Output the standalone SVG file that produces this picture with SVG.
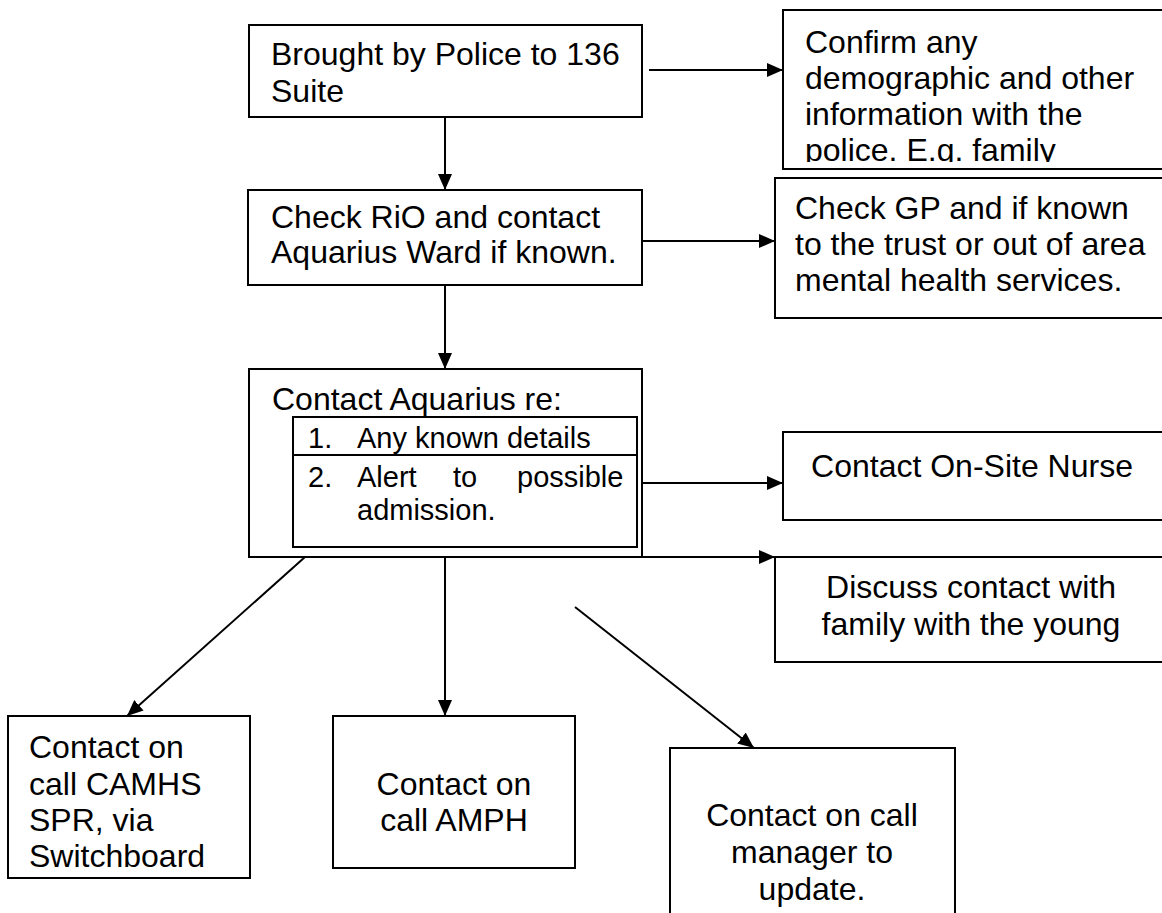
<svg xmlns="http://www.w3.org/2000/svg" width="1162" height="913" viewBox="0 0 1162 913">
<style>
.box{fill:#fff;stroke:#000;stroke-width:2}
.t{font-family:"Liberation Sans",Arial,sans-serif;font-size:32px;fill:#000}
.s{font-family:"Liberation Sans",Arial,sans-serif;font-size:29px;fill:#000}
.c{text-anchor:middle}
.ln{stroke:#000;stroke-width:2;fill:none}
</style>
<defs>
<marker id="ah" viewBox="0 0 16 14" refX="16" refY="7" markerWidth="16" markerHeight="14" orient="auto" markerUnits="userSpaceOnUse"><path d="M0,0 L16,7 L0,14 z" fill="#000"/></marker>
<clipPath id="clipConfirm"><rect x="783" y="10" width="400" height="152"/></clipPath>
</defs>
<rect width="1162" height="913" fill="#fff"/>
<g id="n1">
<rect class="box" x="249" y="25" width="393" height="92"/>
<text class="t" x="271" y="65">Brought by Police to 136</text>
<text class="t" x="271" y="102">Suite</text>
</g>
<g id="n2">
<rect class="box" x="783" y="10" width="400" height="159"/>
<g clip-path="url(#clipConfirm)">
<text class="t" x="805" y="53">Confirm any</text>
<text class="t" x="805" y="89">demographic and other</text>
<text class="t" x="805" y="125">information with the</text>
<text class="t" x="805" y="161">police. E.g. family</text>
</g>
</g>
<g id="n3">
<rect class="box" x="248" y="190" width="394" height="95"/>
<text class="t" x="271" y="228">Check RiO and contact</text>
<text class="t" x="271" y="263">Aquarius Ward if known.</text>
</g>
<g id="n4">
<rect class="box" x="775" y="178" width="400" height="140"/>
<text class="t" x="795" y="219">Check GP and if known</text>
<text class="t" x="795" y="255">to the trust or out of area</text>
<text class="t" x="795" y="291">mental health services.</text>
</g>
<g id="n5">
<rect class="box" x="249" y="369" width="393" height="188"/>
<text class="t" x="272" y="410">Contact Aquarius re:</text>
<rect class="box" x="293" y="417" width="344" height="130"/>
<line class="ln" x1="293" y1="455" x2="637" y2="455"/>
<text class="s" x="308" y="448">1.</text>
<text class="s" x="357" y="448">Any known details</text>
<text class="s" x="308" y="487">2.</text>
<text class="s" x="357" y="487">Alert</text>
<text class="s" x="453" y="487">to</text>
<text class="s" x="517" y="487">possible</text>
<text class="s" x="357" y="520">admission.</text>
</g>
<g id="n6">
<rect class="box" x="783" y="432" width="400" height="88"/>
<text class="t c" x="972" y="477">Contact On-Site Nurse</text>
</g>
<g id="n7">
<rect class="box" x="775" y="557" width="400" height="105"/>
<text class="t c" x="971" y="598">Discuss contact with</text>
<text class="t c" x="971" y="635">family with the young</text>
</g>
<g id="n8">
<rect class="box" x="8" y="716" width="242" height="162"/>
<text class="t" x="29" y="758">Contact on</text>
<text class="t" x="29" y="795">call CAMHS</text>
<text class="t" x="29" y="831">SPR, via</text>
<text class="t" x="29" y="867">Switchboard</text>
</g>
<g id="n9">
<rect class="box" x="333" y="716" width="242" height="152"/>
<text class="t c" x="454" y="795">Contact on</text>
<text class="t c" x="454" y="831">call AMPH</text>
</g>
<g id="n10">
<rect class="box" x="670" y="748" width="285" height="200"/>
<text class="t c" x="812" y="826">Contact on call</text>
<text class="t c" x="812" y="863">manager to</text>
<text class="t c" x="812" y="900">update.</text>
</g>
<g id="connectors">
<line class="ln" x1="649" y1="70" x2="783" y2="70" marker-end="url(#ah)"/>
<line class="ln" x1="445" y1="117" x2="445" y2="190" marker-end="url(#ah)"/>
<line class="ln" x1="642" y1="241" x2="775" y2="241" marker-end="url(#ah)"/>
<line class="ln" x1="445" y1="285" x2="445" y2="369" marker-end="url(#ah)"/>
<line class="ln" x1="642" y1="483" x2="783" y2="483" marker-end="url(#ah)"/>
<line class="ln" x1="642" y1="557" x2="775" y2="557" marker-end="url(#ah)"/>
<line class="ln" x1="305" y1="557" x2="127" y2="716" marker-end="url(#ah)"/>
<line class="ln" x1="445" y1="557" x2="445" y2="716" marker-end="url(#ah)"/>
<line class="ln" x1="575" y1="607" x2="754" y2="748" marker-end="url(#ah)"/>
</g>
</svg>
